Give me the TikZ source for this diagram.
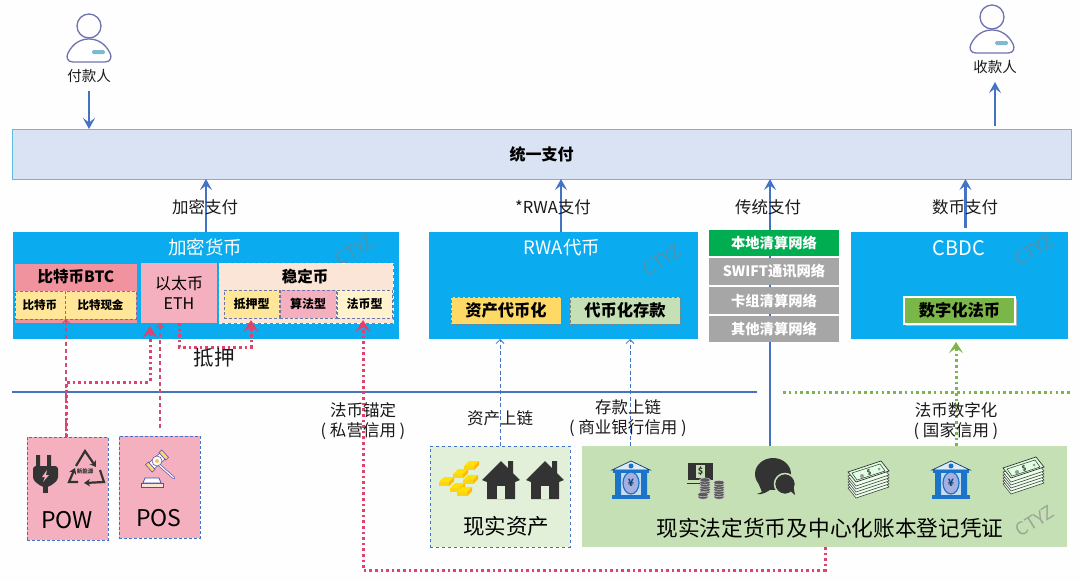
\documentclass[tikz,border=0pt]{standalone}
\usepackage{fontspec}
\setmainfont{Noto Sans CJK SC}
\usetikzlibrary{arrows.meta,calc}
\definecolor{skyb}{HTML}{0AACEF}
\definecolor{lineb}{HTML}{4472C4}
\definecolor{redl}{HTML}{E0426E}
\definecolor{grnl}{HTML}{7AB648}
\definecolor{pinkb}{HTML}{F4B0BE}
\definecolor{pinkd}{HTML}{F0939F}
\definecolor{yelb}{HTML}{FFE699}
\definecolor{peach}{HTML}{FBE5D6}
\definecolor{creamb}{HTML}{FFF2CC}
\definecolor{dashc}{HTML}{6A78A8}
\definecolor{dark}{HTML}{333333}
\definecolor{persc}{HTML}{6F74B0}
\definecolor{bankb}{HTML}{1C74C8}
\definecolor{paleg}{HTML}{E2F0D9}
\definecolor{midg}{HTML}{C5E0B4}
\definecolor{payfill}{HTML}{DAE3F3}
\definecolor{payline}{HTML}{5BBFE0}
\definecolor{netg}{HTML}{00AD50}
\definecolor{netgray}{HTML}{A6A6A6}
\definecolor{goldy}{HTML}{FFD966}
\tikzset{
  x=1pt,y=-1pt,
  box/.style={inner sep=0pt,outer sep=0pt,align=center,text=black},
  dbox/.style={box,draw=dashc,dashed,line width=.8pt,dash pattern=on 3pt off 2pt},
  netbox/.style={box,text=white,font=\fontsize{14.3}{16}\selectfont\bfseries},
  lbl/.style={inner sep=0pt,outer sep=0pt,align=center,text=black!90,font=\fontsize{16.5}{20}\selectfont},
  hdr/.style={inner sep=0pt,outer sep=0pt,text=white,font=\fontsize{18.5}{20}\selectfont},
  subt/.style={font=\fontsize{12}{14}\selectfont\bfseries},
  bigarrow/.style={draw=lineb,line width=2.4pt,-{Stealth[length=11pt,width=12pt,inset=4.5pt]}},
  thinarrow/.style={draw=lineb,line width=.8pt,dashed,dash pattern=on 4pt off 2.5pt,-{Straight Barb[length=4pt,width=8pt]}},
  reddot/.style={draw=redl,line width=3pt,dash pattern=on 2.6pt off 3pt,-{Stealth[length=12pt,width=15pt,inset=5pt]}},
  redthin/.style={draw=redl!80!gray,line width=1.2pt,dash pattern=on 4pt off 3pt,-{Straight Barb[length=4pt,width=8pt]}},
  grndot/.style={draw=grnl,line width=3pt,dash pattern=on 2.6pt off 3pt,-{Stealth[length=11pt,width=14pt,inset=5pt]}},
}
\newcommand{\bx}[7]{%
  \pgfmathsetmacro\bxc{(#3+#5)/2}\pgfmathsetmacro\byc{(#4+#6)/2}%
  \pgfmathsetmacro\bxw{#5-#3}\pgfmathsetmacro\byh{#6-#4}%
  \node[#2,minimum width=\bxw pt,minimum height=\byh pt] (#1) at (\bxc,\byc) {#7};}
\newcommand{\ctyz}[3]{\node[inner sep=0pt,rotate=32,text=gray,opacity=.6,font=\fontsize{18}{18}\selectfont] (#1) at (#2,#3) {CTYZ};}
\newcommand{\personicon}[2]{\begin{scope}[shift={(#1,#2)}]
  \draw[persc,line width=1.3pt] (0,-18) circle (12);
  \draw[persc,line width=1.3pt,fill=white] (-16,18) .. controls (-22,18) and (-23,13) .. (-21,9) .. controls (-16,-1) and (-8,-5) .. (0,-5) .. controls (8,-5) and (16,-1) .. (21,9) .. controls (23,13) and (22,18) .. (16,18) -- cycle;
  \fill[cyan!40!teal!60,rounded corners=1.5pt] (3,6) rectangle (16,10);
  \end{scope}}
\newcommand{\bankicon}[2]{\begin{scope}[shift={(#1,#2)}]
  \fill[bankb] (-19,15) rectangle (19,19);
  \fill[bankb!25] (-16,-9) rectangle (16,15);
  \fill[bankb] (-16,-8) rectangle (-10,15) (10,-8) rectangle (16,15);
  \fill[bankb!15] (-19,-10) -- (0,-19) -- (19,-10) -- cycle;
  \draw[bankb!50!black,line width=.7pt] (-19,-10) -- (0,-19) -- (19,-10) -- cycle;
  \fill[bankb] (-18,-10) rectangle (18,-7);
  \fill[bankb] (0,-14) circle (2.5);
  \filldraw[draw=bankb,line width=1.2pt,fill=cyan!30!blue!35] (0,3) ellipse (8 and 11);
  \node[inner sep=0pt,text=bankb!60!black,font=\fontsize{10}{10}\selectfont\bfseries] at (0,3) {¥};
  \end{scope}}
\newcommand{\cashicon}[2]{\begin{scope}[shift={(#1,#2)}]
  \foreach \d in {16,13,10,7,4}{\filldraw[draw=dark,fill=green!8,line width=.5pt] (-20,-5+\d) -- (13,-16+\d) -- (21,-6+\d) -- (-12,5+\d) -- cycle;}
  \filldraw[draw=dark,fill=green!12!white,line width=.7pt] (-20,-5) -- (13,-16) -- (21,-6) -- (-12,5) -- cycle;
  \draw[dark,line width=.5pt] (-16,-4) -- (12,-13) -- (17,-6) -- (-11,3) -- cycle;
  \fill[gray!80] (-6,-1) circle (2) (11,-8) circle (1.5);
  \node[inner sep=0pt,text=dark,rotate=18,font=\fontsize{7}{7}\selectfont\bfseries] at (1,-5) {\$};
  \end{scope}}
\newcommand{\houseicon}[2]{\begin{scope}[shift={(#1,#2)}]
  \fill[dark] (-19,0) -- (0,-19) -- (7,-12) -- (7,-19) -- (12,-19) -- (12,-7) -- (19,0) -- (14,2) -- (14,19) -- (-14,19) -- (-14,2) -- cycle;
  \fill[paleg] (-4,6) rectangle (4,19);
  \end{scope}}
\newcommand{\coinstack}[3]{\foreach \k in {0,...,#3}{\filldraw[draw=gray!30,fill=gray!70!black,line width=.4pt] (#1,#2-\k*2.4) ellipse (5.5 and 2.2);}}
\begin{document}
\begin{tikzpicture}
\useasboundingbox (0,0) rectangle (1080,581);
\fill[white!99!gray] (0,0) rectangle (1080,581);
% people
\personicon{89}{44}
\personicon{992}{35}
\node[lbl,font=\fontsize{14.5}{16}\selectfont] (payer) at (89,76) {付款人};
\node[lbl,font=\fontsize{14.5}{16}\selectfont] (payee) at (995,67) {收款人};
% unified payment
\bx{pay}{box,fill=payfill,draw=payline,line width=1pt}{12}{129}{1071}{179}{\fontsize{16}{18}\selectfont\bfseries 统一支付}
\draw[bigarrow] (payer.south |- 0,91) -- (payer.south |- pay.north);
\coordinate (payeeend) at (995,82);
\draw[bigarrow] (995,126) -- (payeeend);
% crypto
\bx{crypto}{box,fill=skyb}{13}{232}{399}{339}{}
\node[hdr] (cryptot) at (205,247) {加密货币};
\ctyz{w1}{355}{250}
\bx{btc}{box,fill=pinkd}{15}{264}{137}{323}{}
\node[box,font=\fontsize{15.5}{17}\selectfont\bfseries] (btct) at (76,277) {比特币BTC};
\bx{btc1}{dbox,fill=yelb,font=\fontsize{11.5}{13}\selectfont\bfseries}{15}{291}{65}{319}{比特币}
\bx{btc2}{dbox,fill=yelb,font=\fontsize{11.5}{13}\selectfont\bfseries}{65}{291}{136}{319}{比特现金}
\bx{eth}{box,fill=pinkb,font=\fontsize{16}{20.5}\selectfont}{141}{263}{217}{323}{以太币\\ETH}
\bx{stable}{box,fill=peach,draw=white,dashed,line width=.8pt}{219}{263}{393}{323}{}
\node[box,font=\fontsize{15.5}{17}\selectfont\bfseries] (stablet) at (305,277) {稳定币};
\bx{st1}{dbox,fill=yelb,subt}{224}{290}{279}{318}{抵押型}
\bx{st2}{dbox,fill=pinkb,subt}{280}{290}{336}{318}{算法型}
\bx{st3}{dbox,fill=creamb,subt}{337}{290}{392}{318}{法币型}
% rwa
\bx{rwa}{box,fill=skyb}{429}{232}{698}{339}{}
\node[hdr] (rwat) at (562,248) {RWA代币};
\ctyz{w2}{662}{260}
\bx{rwa1}{dbox,fill=goldy,font=\fontsize{16.3}{18}\selectfont\bfseries,draw=gray}{451}{297}{561}{324}{资产代币化}
\bx{rwa2}{dbox,fill=midg,font=\fontsize{16.3}{18}\selectfont\bfseries,draw=gray}{570}{297}{680}{324}{代币化存款}
% cbdc
\bx{cbdc}{box,fill=skyb}{851}{232}{1068}{339}{}
\node[hdr,font=\fontsize{20}{22}\selectfont] (cbdct) at (959,248) {CBDC};
\ctyz{w3}{1034}{250}
\fill[black!30] (906,299) rectangle (1017,326);
\bx{cbdc1}{box,fill=grnl,draw=white,line width=1.6pt,font=\fontsize{16.3}{18}\selectfont\bfseries}{904}{297}{1015}{324}{数字化法币}
% lower boxes
\bx{real}{box,fill=paleg,draw=lineb,dashed,line width=.8pt}{430}{446}{570}{547}{}
\node[box,font=\fontsize{21.5}{24}\selectfont] (realt) at (506,526) {现实资产};
\bx{fiat}{box,fill=midg}{582}{446}{1067}{547}{}
\node[box,font=\fontsize{21.7}{24}\selectfont] (fiatt) at (830,528) {现实法定货币及中心化账本登记凭证};
\ctyz{w4}{1035}{521}
\bx{pow}{dbox,fill=pinkb,draw=lineb}{27}{437}{108}{540}{}
\node[box,font=\fontsize{23}{26}\selectfont] (powt) at (67,520) {POW};
\bx{pos}{dbox,fill=pinkb,draw=lineb}{119}{436}{200}{538}{}
\node[box,font=\fontsize{23}{26}\selectfont] (post) at (159,518) {POS};
% blue connectors
\draw[bigarrow] (crypto.north) -- (crypto.north |- pay.south);
\draw[bigarrow] ([xshift=-2.5pt]rwa.north) -- ([xshift=-2.5pt]rwa.north |- pay.south);
\draw[bigarrow] (770,0 |- fiat.north) -- (770,0 |- pay.south);
\draw[bigarrow] ([xshift=6pt,yshift=4pt]cbdc.north) -- ([xshift=6pt]cbdc.north |- pay.south);
% network stack
\bx{n1}{netbox,fill=netg}{709}{230}{839}{256}{本地清算网络}
\bx{n2}{netbox,fill=netgray}{709}{258}{839}{285}{SWIFT通讯网络}
\bx{n3}{netbox,fill=netgray}{709}{287}{839}{314}{卡组清算网络}
\bx{n4}{netbox,fill=netgray}{709}{316}{839}{342}{其他清算网络}
% separators
\coordinate (sepA) at (12,392); \coordinate (sepB) at (757,392);
\coordinate (sepC) at (783,392); \coordinate (sepD) at (1071,392);
\draw[lineb,line width=2.6pt] (sepA) -- (sepB);
\draw[grnl,line width=3pt,dash pattern=on 2.6pt off 3.2pt] (sepC) -- (sepD);
% thin dashed
\draw[thinarrow] (500,0 |- real.north) -- (500,0 |- rwa.south);
\draw[thinarrow] (630,0 |- fiat.north) -- (630,0 |- rwa.south);
\draw[grndot] (956,0 |- fiat.north) -- (956,342);
% red
\draw[redthin] (66,0 |- pow.north) -- (66,0 |- btc1.south);
\draw[reddot] (66,0 |- pow.north) -- (66,382) -- (150,382) -- (150,326);
\draw[redthin] (160,428) -- (160,0 |- eth.south);
\draw[reddot] (179,0 |- eth.south) -- (179,347) -- (251,347) -- (251,320);
\draw[reddot] (825,0 |- fiat.south) -- (825,570) -- (363,570) -- (363,320);
% labels
\node[lbl] (l1) at (205,207) {加密支付};
\node[lbl] (l2) at (553,207) {*RWA支付};
\node[lbl] (l3) at (768,207) {传统支付};
\node[lbl] (l4) at (965,207) {数币支付};
\node[lbl,font=\fontsize{20.5}{22}\selectfont] (l5) at (214,358) {抵押};
\node[lbl] (l6) at (363,421) {法币锚定\\( 私营信用 )};
\node[lbl] (l7) at (500,418) {资产上链};
\node[lbl] (l8) at (628,418) {存款上链\\( 商业银行信用 )};
\node[lbl] (l9) at (956,421) {法币数字化\\( 国家信用 )};
% plug
\fill[dark] (36,455) rectangle (40,468) (47,455) rectangle (51,468);
\fill[dark,rounded corners=3pt] (33,466) -- (58,466) -- (58,480) -- (49,487) -- (42,487) -- (33,480) -- cycle;
\fill[dark] (43,485) rectangle (48,493);
\fill[pinkb] (47,470) -- (42,477) -- (45,477) -- (43,482) -- (49,475) -- (46,475) -- cycle;
% recycle
\begin{scope}[dark,line width=2.2pt,-{Stealth[length=6pt,width=7.5pt]}]
\draw (76,466) -- (85,451) -- (96,467);
\draw (100,470) -- (104,482) -- (84,483);
\draw (78,482) -- (69,482) -- (75,468);
\end{scope}
\node[inner sep=0pt,text=dark,font=\fontsize{5.5}{6}\selectfont\bfseries] (recy) at (85,471) {新能源};
% gavel
\draw[gray!70!blue,line width=2.6pt,line cap=round] (158,464) -- (174,478);
\draw[white,line width=1.2pt,line cap=round] (158,464) -- (174,478);
\begin{scope}[rotate around={42:(157,461)}]
\filldraw[draw=gray!70!blue,fill=yelb!80!orange,line width=.6pt] (146,456) rectangle (150,466) (164,456) rectangle (168,466);
\filldraw[draw=gray!70!blue,fill=white,line width=.6pt] (150,457) rectangle (164,465);
\end{scope}
\filldraw[draw=gray!70!blue,fill=white,line width=.6pt] (157,461) circle (5);
\fill[yelb!60!orange] (157,461) circle (2);
\filldraw[draw=gray!60!blue,fill=peach,line width=.8pt] (141,483) rectangle (163,487);
\filldraw[draw=gray!60!blue,fill=white,line width=.8pt] (145,478) -- (159,478) -- (161,483) -- (143,483) -- cycle;
% gold bars
\foreach \gx/\gy in {439/482,450/488,453/474,463/480,464/466,457/492}{
\fill[yellow!85!orange] (\gx,\gy) -- (\gx+5,\gy-5) -- (\gx+15,\gy-5) -- (\gx+10,\gy) -- cycle;
\fill[yellow!70!orange!95!white] (\gx,\gy) -- (\gx+10,\gy) -- (\gx+10,\gy+4) -- (\gx,\gy+4) -- cycle;
\fill[orange!55!yellow] (\gx+10,\gy) -- (\gx+15,\gy-5) -- (\gx+15,\gy-1) -- (\gx+10,\gy+4) -- cycle;}
\houseicon{501}{480}
\houseicon{545}{480}
\bankicon{631}{480}
\bankicon{951}{480}
% money and coins
\fill[dark] (688,463) rectangle (713,480);
\fill[midg] (696,465) rectangle (705,478);
\node[inner sep=0pt,text=dark,font=\fontsize{9}{9}\selectfont\bfseries] (dollar) at (700.5,471.5) {\$};
\draw[dark,line width=.8pt] (687,483) -- (702,483);
\coinstack{705}{492}{5}
\coinstack{719}{497}{6}
\coinstack{703}{497}{1}
% chat
\fill[dark] (773,474) ellipse (18 and 16);
\fill[dark] (757,480) -- (762,492) -- (757,494) .. controls (762,495) and (768,492) .. (772,488) -- cycle;
\filldraw[draw=midg,fill=dark,line width=1.5pt] (785,484) circle (10.5);
\fill[dark] (789,490) -- (795,495) -- (793,484) -- cycle;
\cashicon{868}{477}
\cashicon{1023}{473}
\end{tikzpicture}
\end{document}
